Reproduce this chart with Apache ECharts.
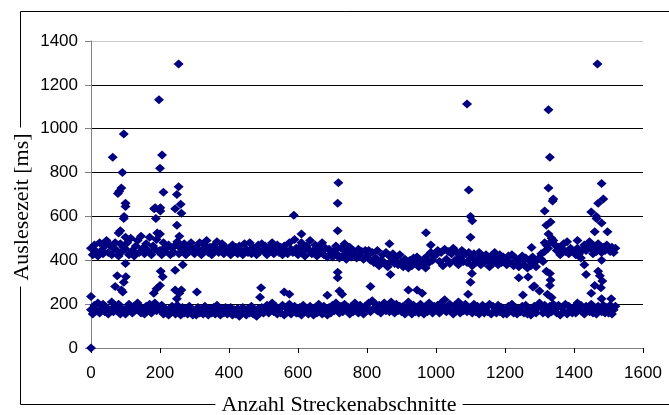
<!DOCTYPE html>
<html>
<head>
<meta charset="utf-8">
<script src="https://cdn.jsdelivr.net/npm/echarts@6/dist/echarts.min.js"></script>
<style>
  html, body { margin: 0; padding: 0; background: #fff; }
</style>
</head>
<body>
<div id="chart" style="width: 669px; height: 415px"></div>
<script>
// x step of the band arrays (Streckenabschnitte)
const step = 5

// upper band, x = 0, 5, 10 ... 1520
const upperBand = [
  455, 425, 470, 440, 420, 480, 445, 430, 465, 490, 435, 470, 425, 455, 480, 445, 420, 475, 440, 460,
  450, 480, 425, 500, 445, 420, 465, 490, 435, 510, 455, 430, 475, 445, 505, 425, 465, 450, 495, 440,
  445, 425, 480, 440, 460, 470, 425, 455, 435, 470, 485, 430, 455, 445, 475, 425, 460, 440, 480, 450,
  430, 460, 445, 480, 425, 450, 470, 490, 435, 460, 425, 465, 445, 485, 435, 455, 475, 430, 460, 445,
  455, 425, 470, 440, 460, 430, 465, 445, 425, 475, 450, 435, 480, 430, 460, 445, 425, 470, 440, 475,
  445, 465, 425, 460, 440, 480, 430, 455, 470, 435, 460, 425, 465, 445, 430, 480, 450, 435, 495, 455,
  425, 460, 480, 440, 420, 465, 450, 490, 430, 445, 470, 420, 460, 440, 480, 425, 455, 415, 450, 430,
  415, 445, 465, 425, 410, 455, 420, 445, 405, 435, 460, 415, 445, 425, 410, 450, 420, 440, 405, 445,
  420, 445, 400, 435, 390, 410, 445, 375, 400, 425, 390, 435, 370, 420, 395, 430, 385, 410, 380, 425,
  390, 370, 405, 380, 365, 400, 375, 410, 385, 415, 370, 400, 380, 405, 365, 420, 390, 435, 400, 425,
  425, 445, 395, 435, 375, 450, 405, 440, 385, 430, 455, 400, 435, 380, 415, 445, 395, 430, 390, 435,
  410, 375, 430, 390, 405, 435, 380, 415, 390, 425, 400, 370, 420, 385, 435, 405, 380, 425, 390, 415,
  400, 380, 420, 390, 425, 375, 410, 385, 370, 405, 420, 380, 410, 365, 400, 375, 415, 390, 370, 405,
  410, 430, 395, 440, 470, 455, 480, 500, 490, 470, 445, 460, 425, 450, 475, 440, 485, 430, 455, 445,
  440, 425, 455, 430, 410, 450, 470, 445, 460, 480, 455, 430, 465, 440, 475, 450, 435, 460, 445, 470,
  450, 440, 460, 435, 455
]

// lower band, same x positions
const lowerBand = [
  175, 155, 195, 170, 205, 160, 180, 200, 165, 185, 155, 175, 210, 165, 190, 170, 200, 155, 180, 175,
  155, 185, 200, 170, 160, 190, 175, 205, 190, 160, 175, 155, 190, 170, 200, 160, 180, 205, 170, 185,
  175, 195, 155, 180, 170, 150, 160, 190, 175, 155, 195, 170, 150, 185, 160, 175, 155, 190, 170, 150,
  170, 150, 185, 160, 175, 155, 190, 170, 150, 180, 160, 185, 155, 195, 170, 150, 180, 160, 185, 155,
  165, 185, 150, 175, 155, 180, 145, 165, 185, 170, 150, 180, 160, 190, 155, 170, 145, 180, 160, 185,
  160, 180, 195, 160, 185, 205, 165, 190, 155, 175, 160, 195, 150, 185, 165, 200, 155, 175, 190, 160,
  160, 185, 150, 195, 170, 180, 155, 190, 165, 150, 185, 160, 200, 175, 155, 190, 165, 150, 185, 160,
  195, 170, 205, 180, 160, 190, 165, 200, 175, 185, 155, 190, 165, 205, 175, 160, 195, 170, 155, 190,
  185, 205, 165, 215, 180, 200, 170, 195, 160, 190, 205, 170, 195, 165, 210, 180, 160, 200, 170, 190,
  165, 190, 155, 185, 210, 170, 155, 195, 165, 185, 160, 200, 170, 155, 190, 165, 205, 175, 160, 190,
  175, 195, 160, 205, 180, 220, 165, 190, 200, 170, 155, 195, 175, 210, 160, 190, 170, 200, 165, 185,
  180, 160, 200, 165, 190, 155, 175, 195, 160, 185, 165, 200, 155, 190, 170, 160, 195, 165, 185, 155,
  170, 155, 190, 175, 200, 160, 185, 155, 175, 165, 190, 160, 195, 155, 175, 150, 165, 190, 160, 185,
  205, 185, 160, 195, 175, 155, 190, 165, 200, 175, 160, 195, 150, 185, 165, 200, 155, 190, 175, 160,
  185, 160, 205, 175, 195, 165, 155, 190, 175, 165, 200, 160, 185, 155, 190, 175, 165, 195, 160, 185,
  160, 195, 155, 175, 190
]

// single points outside the two bands [x, ms]
const outliers = [
  [0, 0], [0, 235], [63, 870], [95, 976], [91, 800], [78, 705], [88, 730], [82, 715],
  [100, 660], [100, 645], [96, 600], [95, 590], [80, 525], [85, 535], [100, 505],
  [100, 385], [101, 325], [76, 330], [95, 300], [88, 265], [70, 280], [92, 255],
  [197, 1132], [206, 880], [200, 820], [210, 710], [186, 640], [183, 635], [201, 640],
  [201, 625], [188, 590], [192, 525], [200, 520], [215, 460], [202, 350], [208, 325],
  [200, 285], [182, 250], [190, 270], [254, 1295], [254, 735], [249, 700], [260, 655],
  [244, 635], [262, 615], [249, 560], [256, 510], [244, 355], [266, 380], [244, 265],
  [256, 250], [249, 225], [262, 265], [307, 255], [490, 232], [493, 275], [560, 255],
  [575, 245], [588, 605], [610, 520], [717, 754], [715, 660], [715, 535], [715, 345],
  [715, 320], [720, 260], [728, 245], [685, 240], [735, 475], [810, 280], [868, 335],
  [865, 475], [920, 265], [945, 265], [960, 250], [971, 526], [985, 470], [1090, 1113],
  [1095, 720], [1100, 600], [1105, 580], [1100, 505], [1104, 340], [1100, 300],
  [1093, 245], [1240, 320], [1252, 242], [1267, 324], [1281, 278], [1277, 458],
  [1285, 283], [1326, 1087], [1330, 870], [1326, 730],
  [1340, 680], [1338, 670], [1315, 625], [1320, 560], [1332, 575], [1326, 520],
  [1315, 480], [1330, 340], [1332, 310], [1330, 285], [1305, 405], [1320, 350],
  [1323, 245], [1300, 260], [1335, 230], [1468, 1295], [1480, 750], [1485, 680],
  [1470, 660], [1450, 620], [1465, 600], [1465, 590], [1480, 570], [1460, 530],
  [1497, 530], [1445, 485], [1480, 400], [1470, 350], [1475, 330], [1482, 305],
  [1460, 285], [1450, 250], [1430, 380], [1435, 335], [1410, 490], [1478, 275],
  [1508, 225], [1480, 225]
]

const xTicks = { min: 0, max: 1600, interval: 200 }
const yTicks = { min: 0, max: 1400, interval: 200 }

const points = []
upperBand.forEach((v, i) => points.push([i * step, v]))
lowerBand.forEach((v, i) => points.push([i * step, v]))
outliers.forEach(p => points.push(p))

const chart = echarts.init(document.getElementById('chart'))
const option = {
  animation: false,
  backgroundColor: '#fff',
  grid: { left: 91, right: 26, top: 41, bottom: 67 },
  graphic: [
    {
      type: 'rect',
      z: -10,
      shape: { x: 20.5, y: 11.5, width: 700, height: 393 },
      style: { fill: 'none', stroke: '#000', lineWidth: 1 }
    },
    {
      type: 'text',
      z: 100,
      x: 339,
      y: 405,
      style: {
        text: 'Anzahl Streckenabschnitte',
        font: '22px "Liberation Serif"',
        fill: '#000',
        align: 'center',
        verticalAlign: 'middle',
        backgroundColor: '#fff',
        padding: [0, 6]
      }
    },
    {
      type: 'text',
      z: 100,
      x: 22,
      y: 207,
      rotation: Math.PI / 2,
      style: {
        text: 'Auslesezeit [ms]',
        font: '22px "Liberation Serif"',
        fill: '#000',
        align: 'center',
        verticalAlign: 'middle',
        backgroundColor: '#fff',
        padding: [0, 6]
      }
    }
  ],
  xAxis: {
    type: 'value',
    min: xTicks.min,
    max: xTicks.max,
    interval: xTicks.interval,
    axisLine: { lineStyle: { color: '#808080', width: 1 } },
    axisTick: { show: true, length: 5, lineStyle: { color: '#000' } },
    axisLabel: {
      margin: 17, color: '#000', fontSize: 17, fontFamily: 'Liberation Sans',
      formatter: v => String(v)
    },
    splitLine: { show: false }
  },
  yAxis: {
    type: 'value',
    min: yTicks.min,
    max: yTicks.max,
    interval: yTicks.interval,
    axisLine: { show: true, lineStyle: { color: '#808080', width: 1 } },
    axisTick: { show: true, length: 6, lineStyle: { color: '#808080' } },
    axisLabel: {
      margin: 13, color: '#000', fontSize: 17, fontFamily: 'Liberation Sans',
      formatter: v => String(v)
    },
    splitLine: {
      show: true,
      lineStyle: {
        color: ['#808080', '#000', '#000', '#000', '#000', '#000', '#000', '#c8c8c8'],
        width: 1
      }
    }
  },
  series: [
    {
      type: 'scatter',
      symbol: 'diamond',
      symbolSize: [10, 9],
      itemStyle: { color: '#000080', opacity: 1 },
      data: points
    }
  ]
}
chart.setOption(option)
</script>
</body>
</html>
